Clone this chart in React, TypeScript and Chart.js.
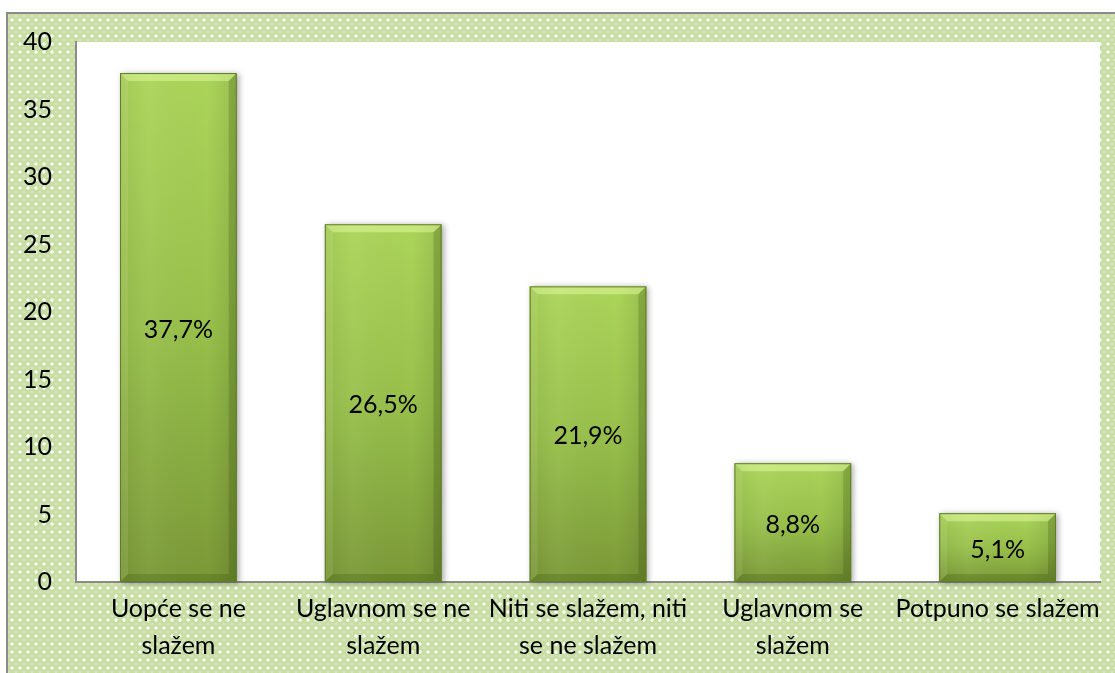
import React, { useEffect, useRef } from "react";
import { Chart, registerables } from "chart.js";
Chart.register(...registerables);

const categories: (string | string[])[] = [
  ["Uopće se ne", "slažem"],
  ["Uglavnom se ne", "slažem"],
  ["Niti se slažem, niti", "se ne slažem"],
  ["Uglavnom se", "slažem"],
  "Potpuno se slažem",
];
const values = [37.7, 26.5, 21.9, 8.8, 5.1];
const valueLabels = ["37,7%", "26,5%", "21,9%", "8,8%", "5,1%"];
const yMin = 0;
const yMax = 40;
const yStep = 5;

const FONT = "Lato, 'Open Sans', sans-serif";

function makePattern(ctx: CanvasRenderingContext2D) {
  const c = document.createElement("canvas");
  c.width = 8;
  c.height = 8;
  const p = c.getContext("2d")!;
  p.fillStyle = "#c8dea4";
  p.fillRect(0, 0, 8, 8);
  p.fillStyle = "#e6f0d6";
  p.fillRect(3, 2, 2, 4);
  p.fillRect(2, 3, 4, 2);
  p.fillStyle = "#f7fbf0";
  p.fillRect(3, 3, 2, 2);
  p.fillStyle = "#d9e8c2";
  p.fillRect(0, 0, 1, 1);
  p.fillRect(7, 7, 1, 1);
  p.fillRect(7, 0, 1, 1);
  p.fillRect(0, 7, 1, 1);
  return ctx.createPattern(c, "repeat")!;
}

const backgroundPlugin = {
  id: "bgPattern",
  beforeDraw(chart: any) {
    const { ctx, width, height, chartArea } = chart;
    ctx.save();
    ctx.fillStyle = "#ffffff";
    ctx.fillRect(0, 0, width, height);
    ctx.fillStyle = makePattern(ctx);
    ctx.fillRect(7, 13, width - 7, height - 13);
    ctx.strokeStyle = "#8a8a8a";
    ctx.lineWidth = 2;
    ctx.beginPath();
    ctx.moveTo(7, height);
    ctx.lineTo(7, 13);
    ctx.lineTo(width, 13);
    ctx.stroke();
    ctx.fillStyle = "#ffffff";
    ctx.fillRect(
      chartArea.left,
      chartArea.top,
      chartArea.right - chartArea.left,
      chartArea.bottom - chartArea.top
    );
    ctx.restore();
  },
};

const barPlugin = {
  id: "bevelBars",
  afterDatasetsDraw(chart: any) {
    const { ctx } = chart;
    const meta = chart.getDatasetMeta(0);
    meta.data.forEach((el: any, i: number) => {
      const w = el.width;
      const l = el.x - w / 2;
      const r = el.x + w / 2;
      const t = el.y;
      const bot = el.base;
      const h = bot - t;
      const b = Math.min(8, h / 3);
      ctx.save();
      ctx.shadowColor = "rgba(0,0,0,0.35)";
      ctx.shadowBlur = 6;
      ctx.shadowOffsetX = 2;
      ctx.shadowOffsetY = 1;
      const g = ctx.createLinearGradient(0, t, 0, bot);
      g.addColorStop(0, "#abd55a");
      g.addColorStop(0.5, "#98c04b");
      g.addColorStop(1, "#7a9937");
      ctx.fillStyle = g;
      ctx.fillRect(l, t, w, h);
      ctx.shadowColor = "transparent";
      ctx.shadowBlur = 0;
      ctx.shadowOffsetX = 0;
      ctx.shadowOffsetY = 0;
      const hg = ctx.createLinearGradient(l, 0, r, 0);
      hg.addColorStop(0, "rgba(0,0,0,0.06)");
      hg.addColorStop(0.25, "rgba(255,255,255,0.04)");
      hg.addColorStop(0.75, "rgba(0,0,0,0)");
      hg.addColorStop(1, "rgba(0,0,0,0.10)");
      ctx.fillStyle = hg;
      ctx.fillRect(l, t, w, h);
      ctx.fillStyle = "rgba(235,255,170,0.45)";
      ctx.beginPath();
      ctx.moveTo(l, t);
      ctx.lineTo(r, t);
      ctx.lineTo(r - b, t + b);
      ctx.lineTo(l + b, t + b);
      ctx.closePath();
      ctx.fill();
      ctx.fillStyle = "rgba(255,255,220,0.10)";
      ctx.beginPath();
      ctx.moveTo(l, t);
      ctx.lineTo(l + b, t + b);
      ctx.lineTo(l + b, bot - b);
      ctx.lineTo(l, bot);
      ctx.closePath();
      ctx.fill();
      ctx.fillStyle = "rgba(40,60,0,0.20)";
      ctx.beginPath();
      ctx.moveTo(r, t);
      ctx.lineTo(r, bot);
      ctx.lineTo(r - b, bot - b);
      ctx.lineTo(r - b, t + b);
      ctx.closePath();
      ctx.fill();
      ctx.fillStyle = "rgba(40,60,0,0.20)";
      ctx.beginPath();
      ctx.moveTo(l, bot);
      ctx.lineTo(r, bot);
      ctx.lineTo(r - b, bot - b);
      ctx.lineTo(l + b, bot - b);
      ctx.closePath();
      ctx.fill();
      ctx.strokeStyle = "#5f7d24";
      ctx.lineWidth = 1;
      ctx.strokeRect(l + 0.5, t + 0.5, w - 1, h - 1);
      ctx.restore();

      ctx.save();
      ctx.fillStyle = "#000000";
      ctx.font = `25px ${FONT}`;
      ctx.textAlign = "center";
      ctx.textBaseline = "middle";
      ctx.fillText(valueLabels[i], el.x, (t + bot) / 2 + 2);
      ctx.restore();
    });
  },
};

export default function App() {
  const ref = useRef<HTMLCanvasElement>(null);
  useEffect(() => {
    const canvas = ref.current!;
    const chart = new Chart(canvas, {
      type: "bar",
      data: {
        labels: categories as any,
        datasets: [
          {
            data: values,
            backgroundColor: "rgba(0,0,0,0)",
            borderWidth: 0,
            barPercentage: 0.57,
            categoryPercentage: 1,
          },
        ],
      },
      options: {
        responsive: false,
        animation: false,
        events: [],
        layout: { padding: { left: 0, top: 42, right: 15, bottom: 0 } },
        plugins: {
          legend: { display: false },
          tooltip: { enabled: false },
        },
        scales: {
          x: {
            grid: { display: false, drawTicks: false },
            border: { display: true, color: "#8a8a8a", width: 2 },
            ticks: {
              color: "#000000",
              font: { family: FONT, size: 25, lineHeight: 1.48 },
              padding: 8,
              maxRotation: 0,
              autoSkip: false,
            },
            afterFit(scale: any) {
              scale.height = 91;
            },
          },
          y: {
            min: yMin,
            max: yMax,
            grid: { display: false, drawTicks: false },
            border: { display: true, color: "#8a8a8a", width: 2 },
            ticks: {
              stepSize: yStep,
              color: "#000000",
              font: { family: FONT, size: 25 },
              padding: 24,
            },
            afterFit(scale: any) {
              scale.width = 76;
            },
          },
        },
      },
      plugins: [backgroundPlugin, barPlugin],
    });
    return () => chart.destroy();
  }, []);
  return (
    <div style={{ position: "fixed", left: 0, top: 0, width: 1115, height: 673 }}>
      <canvas ref={ref} width={1115} height={673} style={{ display: "block" }} />
    </div>
  );
}
